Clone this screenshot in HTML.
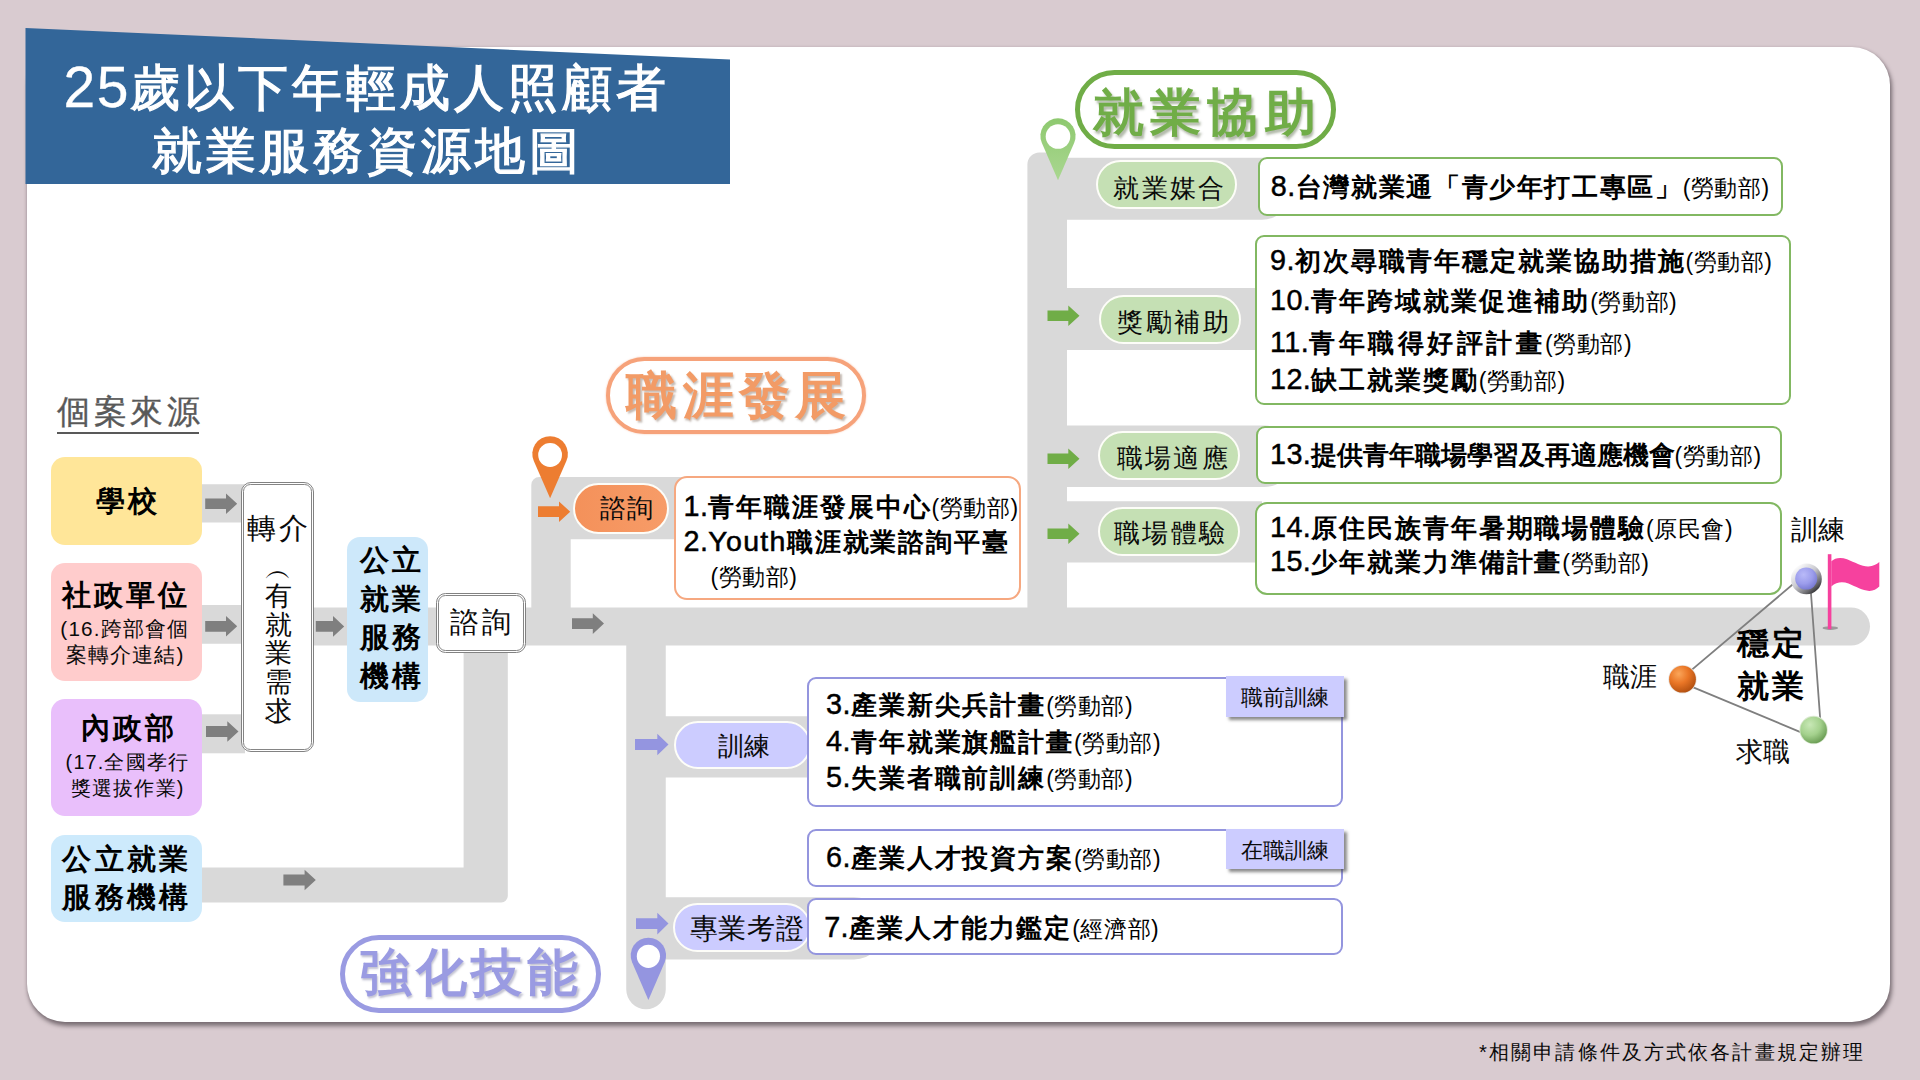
<!DOCTYPE html>
<html lang="zh-Hant-TW">
<head>
<meta charset="utf-8">
<title>25歲以下年輕成人照顧者 就業服務資源地圖</title>
<style>
html,body{margin:0;padding:0}
body{width:1920px;height:1080px;position:relative;overflow:hidden;background:#d9cbd0;font-family:"Liberation Sans",sans-serif;color:#000}
.card{position:absolute;left:26.5px;top:46.5px;width:1863.5px;height:975px;background:#fff;border-radius:38px;box-shadow:1.2px 3.5px 4.5px rgba(62,52,58,.6),0 0 3px rgba(120,100,110,.18)}
svg.l{position:absolute;left:0;top:0;width:1920px;height:1080px;overflow:visible}
.t{position:absolute;white-space:nowrap;line-height:1;margin:0}
.b{font-weight:bold;font-size:26px;letter-spacing:1.9px;line-height:32px;margin-top:-1px}
.s{font-weight:normal;font-size:23px;letter-spacing:.55px}
.n{font-weight:normal;font-size:28.8px;letter-spacing:.4px;-webkit-text-stroke:.45px #000}
.bx{position:absolute;box-sizing:border-box;background:#fff;border-radius:9px}
.g{border:2.2px solid #82b862}
.o{border:2px solid #f6a880;border-radius:13px}
.p{border:2px solid #9495de}
.pl{position:absolute;box-sizing:border-box;border:2px solid #fdfdf8;border-radius:26px;text-align:center;font-size:26px;letter-spacing:2.4px;text-indent:2.4px;white-space:nowrap;color:#0a0a0a}
.pg{background:#c5e0b4}
.pp{background:#ccccff}
.po{background:linear-gradient(90deg,#f4915a,#f79c68)}
.src{position:absolute;box-sizing:border-box;border-radius:14px;text-align:center;white-space:nowrap}
.src b{display:block;position:relative;left:0;top:.6px;font-size:29px;letter-spacing:3.1px;text-indent:3.1px;line-height:36px}
.src span{display:block;position:relative;left:0;top:3.2px;font-size:19.9px;line-height:25.4px;letter-spacing:1.15px;text-indent:1.15px;color:#0a0a0a}
.dbl{position:absolute;box-sizing:border-box;background:#fff;border:1.5px solid #828282;border-radius:10px}
.dbl:after{content:"";position:absolute;left:1.1px;top:1.1px;right:1.1px;bottom:1.1px;border:1.4px solid #858585;border-radius:7.4px}
.hd{position:absolute;box-sizing:border-box;border-radius:40px;text-align:center;font-weight:bold;font-size:51px;letter-spacing:4.4px;text-indent:4.4px;white-space:nowrap;background:#fff}
.tag{position:absolute;background:#ccccff;box-shadow:3px 3px 3px rgba(60,60,60,.6);font-size:22px;text-align:center;white-space:nowrap;color:#0a0a0a}
.lb{font-size:27px;color:#0a0a0a}
</style>
</head>
<body>
<div class="card"></div>

<!-- title banner -->
<svg class="l" viewBox="0 0 1920 1080"><polygon points="25.5,28 730,59.6 730,184 25.5,184" fill="#336699"/></svg>
<div class="t" style="left:63.4px;top:53.4px;font-size:50px;line-height:64px;color:#fff;letter-spacing:3.95px;-webkit-text-stroke:1.25px #fff"><span style="position:relative;top:1.8px;font-size:57px;letter-spacing:1.6px;-webkit-text-stroke:.3px #fff">25</span>歲以下年輕成人照顧者</div>
<div class="t" style="left:151.6px;top:119.2px;font-size:50px;line-height:64px;color:#fff;letter-spacing:3.95px;-webkit-text-stroke:1.25px #fff">就業服務資源地圖</div>

<!-- gray road layer -->
<svg class="l" viewBox="0 0 1920 1080">
<g fill="#d9d9d9">
<!-- source connectors -->
<rect x="195" y="484.25" width="50" height="38.25"/>
<rect x="195" y="605" width="50" height="38.75"/>
<rect x="195" y="714.3" width="50" height="39"/>
<path d="M195 867.4H463.6V645H507.8V896a6.5 6.5 0 0 1 -6.5 6.5H195Z"/>
<!-- main road -->
<path d="M310 607.4H1850.9a19.1 19.1 0 0 1 0 38.2H310Z"/>
<!-- career branch -->
<path d="M531.3 610V485a8 8 0 0 1 8 -8H690V539.3H570.7V610Z"/>
<!-- skills branch -->
<path d="M626.25 640H665.75V716.25H820V777.5H665.75V897.25H854a31.1 31.1 0 0 1 0 62.2H665.75V989.5a19.75 19.75 0 0 1 -39.5 0Z"/>
<!-- employment branch -->
<path d="M1027.4 610V164.5a12 12 0 0 1 12 -12H1055a12 12 0 0 1 11 5.2H1262a31 31 0 0 1 0 62H1067V288H1262V350H1067V425.5H1264a30.8 30.8 0 0 1 0 61.6H1067V501.25H1262V562.5H1067V610Z"/>
</g>
</svg>

<!-- case sources -->
<div class="t" style="left:57px;top:392px;font-size:33px;letter-spacing:3.5px;line-height:40px;color:#595959;-webkit-text-stroke:.35px #595959;border-bottom:2.5px solid #595959;padding:0;width:142px;height:40.3px">個案來源</div>

<div class="src" style="left:50.8px;top:457.4px;width:151.2px;height:87.2px;background:#ffe699;padding-top:25.5px"><b style="left:.2px">學校</b></div>
<div class="src" style="left:50.8px;top:563.3px;width:151.2px;height:117.3px;background:#ffcccc;padding-top:13.5px"><b style="left:-1.9px">社政單位</b><span style="left:-2.2px;font-size:20.7px;top:3.4px">(16.跨部會個</span><span style="left:-1.8px;font-size:20.7px;top:3.6px">案轉介連結)</span></div>
<div class="src" style="left:50.8px;top:698.6px;width:151.2px;height:117.2px;background:#e9bffb;padding-top:11px"><b style="left:1.4px">內政部</b><span style="left:.4px;top:4.2px">(17.全國孝行</span><span style="left:.8px;top:5.2px">獎選拔作業)</span></div>
<div class="src" style="left:50.8px;top:834.8px;width:151.2px;height:87.6px;background:#cdeafc;padding-top:5.6px"><b style="left:-1.3px;line-height:37.8px">公立就業</b><b style="left:-1.3px;line-height:37.8px">服務機構</b></div>

<!-- referral box -->
<div class="dbl" style="left:241.2px;top:481.8px;width:72.7px;height:270px"></div>
<div class="t" style="left:247px;top:510.2px;font-size:28.6px;letter-spacing:3.4px;line-height:36px;color:#0a0a0a">轉介</div>
<div class="t" style="left:263.5px;top:557.1px;width:30px;text-align:center;font-size:26.5px;line-height:28.7px;color:#0a0a0a"><span style="display:block;line-height:26.1px;margin-bottom:-1.3px">︵</span>有<br>就<br>業<br>需<br>求<span style="display:block;line-height:26.1px;margin-top:-15.5px">︶</span></div>

<!-- public employment service -->
<div class="src" style="left:347px;top:537px;width:81px;height:165.4px;background:#cde8fa;border-radius:13px;padding-top:3.4px"><b style="left:2.6px;line-height:38.6px">公立</b><b style="left:2.6px;line-height:38.6px">就業</b><b style="left:2.6px;line-height:38.6px">服務</b><b style="left:2.6px;line-height:38.6px">機構</b></div>

<div class="dbl" style="left:435.6px;top:592.6px;width:90.6px;height:60px;border-radius:9.5px"></div>
<div class="t" style="left:450px;top:604.2px;font-size:28.6px;letter-spacing:2.6px;line-height:36px;color:#0a0a0a">諮詢</div>

<!-- career development -->
<div class="hd" style="left:605.6px;top:356.6px;width:260.4px;height:77.4px;border:4.5px solid #f6a27a;color:#f29b66;line-height:70.8px;letter-spacing:5.3px;text-indent:6.5px;box-shadow:0 0 2px rgba(246,162,122,.7);text-shadow:1.5px 2px 2px rgba(90,60,40,.35)">職涯發展</div>
<div class="pl po" style="left:572.8px;top:482.8px;width:96px;height:50.8px;line-height:46.6px;font-size:26px;letter-spacing:.8px;text-indent:.8px;padding-left:11.4px">諮詢</div>
<div class="bx o" style="left:673.8px;top:476.2px;width:347px;height:123.8px"></div>
<div class="t b" style="left:683.5px;top:490.8px"><span class="n">1.</span>青年職涯發展中心<span class="s">(勞動部)</span></div>
<div class="t b" style="left:683.5px;top:526.3px"><span class="n">2.</span><span style="font-weight:normal;font-size:28.5px;letter-spacing:1.3px;-webkit-text-stroke:.55px #000">Youth</span>職涯就業諮詢平臺</div>
<div class="t b" style="left:710.5px;top:561.2px"><span class="s">(勞動部)</span></div>

<!-- employment assistance -->
<div class="hd" style="left:1074.5px;top:70.4px;width:261px;height:78.4px;border:5.5px solid #70ad47;color:#70ad47;line-height:75.4px;letter-spacing:6.2px;text-indent:5px;text-shadow:1.5px 2.5px 2.5px rgba(50,70,30,.38)">就業協助</div>

<div class="pl pg" style="left:1095.6px;top:159.8px;width:141.6px;height:49.4px;line-height:52.4px;padding-left:5px">就業媒合</div>
<div class="bx g" style="left:1257.6px;top:157.4px;width:525.6px;height:58.8px"></div>
<div class="t b" style="left:1270.8px;top:171.1px;letter-spacing:1.65px"><span class="n">8.</span>台灣就業通「青少年打工專區」<span class="s">(勞動部)</span></div>

<div class="pl pg" style="left:1099.4px;top:294.7px;width:141.2px;height:49.2px;line-height:51.8px;padding-left:6px">獎勵補助</div>
<div class="bx g" style="left:1255.4px;top:234.8px;width:535.4px;height:170.6px"></div>
<div class="t b" style="left:1270px;top:244.6px"><span class="n">9.</span>初次尋職青年穩定就業協助措施<span class="s">(勞動部)</span></div>
<div class="t b" style="left:1270px;top:285.4px"><span class="n">10.</span>青年跨域就業促進補助<span class="s">(勞動部)</span></div>
<div class="t b" style="left:1270px;top:327px;letter-spacing:3.5px"><span class="n">11.</span>青年職得好評計畫<span class="s">(勞動部)</span></div>
<div class="t b" style="left:1270px;top:363.6px"><span class="n">12.</span>缺工就業獎勵<span class="s">(勞動部)</span></div>

<div class="pl pg" style="left:1098px;top:430.6px;width:141.6px;height:49.6px;line-height:51.2px;padding-left:6.8px">職場適應</div>
<div class="bx g" style="left:1256px;top:425.8px;width:526.2px;height:58px"></div>
<div class="t b" style="left:1270px;top:439.2px;letter-spacing:-.05px"><span class="n">13.</span>提供青年職場學習及再適應機會<span class="s">(勞動部)</span></div>

<div class="pl pg" style="left:1098px;top:506.8px;width:141.6px;height:49.6px;line-height:49.8px;padding-left:1.8px">職場體驗</div>
<div class="bx g" style="left:1255.4px;top:502.2px;width:526.8px;height:93px;border-radius:12px"></div>
<div class="t b" style="left:1270px;top:512px"><span class="n">14.</span>原住民族青年暑期職場體驗<span class="s">(原民會)</span></div>
<div class="t b" style="left:1270px;top:545.8px"><span class="n">15.</span>少年就業力準備計畫<span class="s">(勞動部)</span></div>

<!-- skills -->
<div class="hd" style="left:339.8px;top:934.6px;width:261.4px;height:78.6px;border:5px solid #9a9be2;color:#9a9be2;line-height:66.6px;letter-spacing:4.9px;text-indent:2px;text-shadow:1.5px 2px 2px rgba(60,60,110,.3)">強化技能</div>

<div class="pl pp" style="left:673.6px;top:720.8px;width:137px;height:48.6px;line-height:46.6px;font-size:26px;letter-spacing:.8px;text-indent:.8px;padding-left:4px">訓練</div>
<div class="bx p" style="left:807.4px;top:677px;width:535.4px;height:130px"></div>
<div class="t b" style="left:826px;top:689.4px"><span class="n">3.</span>產業新尖兵計畫<span class="s">(勞動部)</span></div>
<div class="t b" style="left:826px;top:726px"><span class="n">4.</span>青年就業旗艦計畫<span class="s">(勞動部)</span></div>
<div class="t b" style="left:826px;top:762.2px"><span class="n">5.</span>失業者職前訓練<span class="s">(勞動部)</span></div>
<div class="tag" style="left:1226.2px;top:676.2px;width:118.2px;height:40.4px;line-height:43px">職前訓練</div>

<div class="bx p" style="left:807.4px;top:828.8px;width:535.4px;height:58.4px"></div>
<div class="t b" style="left:826px;top:842.2px"><span class="n">6.</span>產業人才投資方案<span class="s">(勞動部)</span></div>
<div class="tag" style="left:1226.2px;top:828.8px;width:118.2px;height:40.4px;line-height:43px">在職訓練</div>

<div class="pl pp" style="left:673px;top:902.8px;width:137.6px;height:49.2px;line-height:48.8px;font-size:27.5px;letter-spacing:.65px;text-indent:.65px;padding-left:9.5px">專業考證</div>
<div class="bx p" style="left:807.4px;top:898.2px;width:535.4px;height:57px"></div>
<div class="t b" style="left:824.2px;top:912.4px"><span class="n">7.</span>產業人才能力鑑定<span class="s">(經濟部)</span></div>

<!-- stable employment triangle labels -->
<div class="t lb" style="left:1790.6px;top:514.2px;line-height:32px">訓練</div>
<div class="t lb" style="left:1602.6px;top:661px;line-height:32px">職涯</div>
<div class="t lb" style="left:1736.2px;top:736px;line-height:32px">求職</div>
<div class="t" style="left:1737px;top:622.2px;font-size:32.4px;letter-spacing:3px;font-weight:bold;line-height:43.2px;color:#000">穩定<br>就業</div>

<!-- footnote -->
<div class="t" style="left:1479px;top:1040.4px;font-size:20.3px;line-height:24px;color:#0a0a0a;letter-spacing:2.13px">*相關申請條件及方式依各計畫規定辦理</div>

<!-- overlay: arrows, pins, flag, triangle -->
<svg class="l" viewBox="0 0 1920 1080">
<defs>
<linearGradient id="gpin" x1="0" y1="0" x2="0" y2="1"><stop offset="0" stop-color="#8ec96f"/><stop offset="1" stop-color="#aad791"/></linearGradient>
<linearGradient id="rim" x1="0.15" y1="0.1" x2="0.85" y2="0.9"><stop offset="0" stop-color="#ffffff"/><stop offset=".45" stop-color="#c9c9cf"/><stop offset=".8" stop-color="#6e6e72"/><stop offset="1" stop-color="#2e2e30"/></linearGradient>
<radialGradient id="bp" cx=".38" cy=".32" r=".75"><stop offset="0" stop-color="#b9baf8"/><stop offset=".55" stop-color="#9c9dec"/><stop offset="1" stop-color="#7375cf"/></radialGradient>
<radialGradient id="bo" cx=".36" cy=".3" r=".8"><stop offset="0" stop-color="#fba65a"/><stop offset=".45" stop-color="#ea7626"/><stop offset="1" stop-color="#a9490c"/></radialGradient>
<radialGradient id="bg" cx=".36" cy=".3" r=".8"><stop offset="0" stop-color="#c8e8b6"/><stop offset=".5" stop-color="#a4d18d"/><stop offset="1" stop-color="#5f9349"/></radialGradient>
</defs>
<polygon fill="#7f7f7f" points="205.2,498.4 226.0,498.4 226.0,493.4 237.2,503.8 226.0,514.0 226.0,509.1 205.2,509.1"/>
<polygon fill="#7f7f7f" points="205.2,620.9 226.0,620.9 226.0,616.0 237.2,626.3 226.0,636.6 226.0,631.7 205.2,631.7"/>
<polygon fill="#7f7f7f" points="206.0,726.1 227.3,726.1 227.3,721.2 238.5,731.5 227.3,741.8 227.3,736.9 206.0,736.9"/>
<polygon fill="#7f7f7f" points="315.8,621.0 333.0,621.0 333.0,616.1 344.2,626.4 333.0,636.7 333.0,631.8 315.8,631.8"/>
<polygon fill="#7f7f7f" points="283.4,874.6 304.6,874.6 304.6,869.7 315.8,880.0 304.6,890.3 304.6,885.4 283.4,885.4"/>
<polygon fill="#7f7f7f" points="572.0,618.2 592.8,618.2 592.8,613.3 604.0,623.6 592.8,633.9 592.8,629.0 572.0,629.0"/>
<polygon fill="#ed7d31" points="538.0,506.3 559.0,506.3 559.0,501.4 570.2,511.7 559.0,522.0 559.0,517.1 538.0,517.1"/>
<polygon fill="#70ad47" points="1047.5,310.4 1068.3,310.4 1068.3,305.4 1079.5,315.8 1068.3,326.1 1068.3,321.1 1047.5,321.1"/>
<polygon fill="#70ad47" points="1047.5,453.4 1068.3,453.4 1068.3,448.4 1079.5,458.8 1068.3,469.1 1068.3,464.1 1047.5,464.1"/>
<polygon fill="#70ad47" points="1047.5,528.4 1068.3,528.4 1068.3,523.5 1079.5,533.8 1068.3,544.0 1068.3,539.1 1047.5,539.1"/>
<polygon fill="#9495e0" points="635.0,739.1 657.3,739.1 657.3,733.7 668.5,744.5 657.3,755.3 657.3,749.9 635.0,749.9"/>
<polygon fill="#9495e0" points="636.0,918.2 657.3,918.2 657.3,912.8 668.5,923.6 657.3,934.4 657.3,929.0 636.0,929.0"/>
<path fill="#ed7d31" d="M550.1 498.2L566.4 461.1A17.8 17.8 0 1 0 533.8 461.1Z"/><circle cx="550.1" cy="455.0" r="11.9" fill="#fff"/>
<path fill="url(#gpin)" d="M1058.0 180.3L1074.2 142.8A17.6 17.6 0 1 0 1041.8 142.8Z"/><circle cx="1058.0" cy="136.5" r="12.3" fill="#fff"/>
<path fill="#9495e0" d="M648.4 1000.0L664.7 962.3A17.7 17.7 0 1 0 632.1 962.3Z"/><circle cx="648.4" cy="956.3" r="11.6" fill="#fff"/>
<!-- triangle lines -->
<g stroke="#7f7f7f" stroke-width="1.8" stroke-linecap="round">
<line x1="1800" y1="578.3" x2="1682.5" y2="677.6"/>
<line x1="1682.5" y1="682.8" x2="1813.6" y2="737.6"/>
<line x1="1810" y1="580" x2="1821" y2="730"/>
</g>
<!-- balls -->
<circle cx="1806.4" cy="578.9" r="15.4" fill="url(#rim)"/>
<circle cx="1806.2" cy="578.6" r="11" fill="url(#bp)"/>
<circle cx="1682.5" cy="679.2" r="14.2" fill="#e9e2dc"/>
<circle cx="1682.5" cy="679.2" r="13.4" fill="url(#bo)"/>
<circle cx="1813.6" cy="730" r="14.2" fill="#dbe9d2"/>
<circle cx="1813.6" cy="730" r="13.3" fill="url(#bg)"/>
<!-- flag -->
<ellipse cx="1830.3" cy="628.1" rx="7.8" ry="1.8" fill="#9a9a9a"/>
<rect x="1827.8" y="554.2" width="3.6" height="75" fill="#f6419e"/>
<path fill="#f6419e" d="M1831.3 561.3C1835 557.6 1841 557 1847 559.3C1855 562.4 1862 566.8 1868.5 566.5C1873 566.3 1876.5 564.6 1879.3 562.1V586.4C1876.5 589 1873.5 590.8 1869.5 590.9C1862.5 591 1856 586.6 1848.5 583.6C1842.5 581.3 1836.5 582 1831.3 586.4Z"/>
</svg>

</body>
</html>
